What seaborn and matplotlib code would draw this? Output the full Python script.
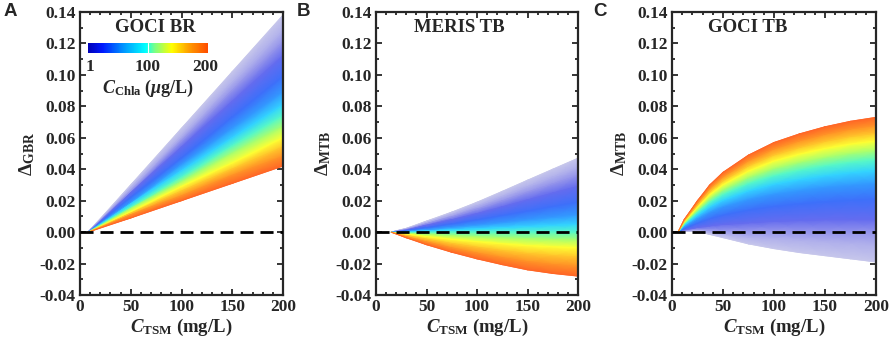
import numpy as np
import pandas as pd
import matplotlib
matplotlib.use("Agg")
import matplotlib.pyplot as plt
import seaborn as sns
from matplotlib.colors import LinearSegmentedColormap, Normalize
from matplotlib.ticker import MultipleLocator, FormatStrFormatter
import matplotlib.cm as cm

sns.set_style("ticks")
plt.rcParams["font.family"] = ["Liberation Serif", "DejaVu Serif"]
plt.rcParams["font.weight"] = "bold"
plt.rcParams["mathtext.fontset"] = "custom"
plt.rcParams["mathtext.rm"] = "Liberation Serif:bold"
plt.rcParams["mathtext.it"] = "Liberation Serif:italic:bold"
plt.rcParams["mathtext.bf"] = "Liberation Serif:bold"

# Chla levels (ug/L) shared by all panels
chla = [1, 5, 10, 20, 40, 60, 80, 100, 120, 140, 160, 180, 200]

# panel A: GOCI BR
tsm_a = [8, 50, 100, 150, 200]
delta_a = [
    [0, 0.030, 0.066, 0.102, 0.138],
    [0, 0.028, 0.061, 0.095, 0.128],
    [0, 0.026, 0.058, 0.090, 0.121],
    [0, 0.025, 0.054, 0.083, 0.112],
    [0, 0.022, 0.047, 0.073, 0.099],
    [0, 0.019, 0.043, 0.066, 0.089],
    [0, 0.018, 0.039, 0.060, 0.081],
    [0, 0.016, 0.035, 0.055, 0.074],
    [0, 0.015, 0.032, 0.050, 0.067],
    [0, 0.013, 0.029, 0.044, 0.060],
    [0, 0.012, 0.026, 0.040, 0.054],
    [0, 0.011, 0.023, 0.036, 0.048],
    [0, 0.009, 0.020, 0.031, 0.042],
]

# panel B: MERIS TB
tsm_b = [15, 30, 50, 75, 100, 125, 150, 175, 200]
delta_b = [
    [0, 0.0024, 0.0070, 0.0127, 0.0190, 0.0259, 0.0330, 0.0400, 0.047],
    [0, 0.0021, 0.0061, 0.0111, 0.0166, 0.0226, 0.0288, 0.0349, 0.041],
    [0, 0.0018, 0.0054, 0.0097, 0.0145, 0.0198, 0.0253, 0.0306, 0.036],
    [0, 0.0015, 0.0043, 0.0078, 0.0117, 0.0160, 0.0204, 0.0247, 0.029],
    [0, 0.0010, 0.0028, 0.0051, 0.0077, 0.0105, 0.0133, 0.0162, 0.019],
    [0, 0.0006, 0.0016, 0.0030, 0.0044, 0.0060, 0.0077, 0.0094, 0.011],
    [0, 0.0003, 0.0007, 0.0014, 0.0020, 0.0028, 0.0035, 0.0043, 0.005],
    [0, 0.0000, 0.0000, 0.0000, 0.0000, 0.0000, 0.0000, 0.0000, 0.000],
    [0, -0.0007, -0.0014, -0.0023, -0.0030, -0.0037, -0.0043, -0.0047, -0.005],
    [0, -0.0013, -0.0029, -0.0046, -0.0061, -0.0074, -0.0086, -0.0094, -0.010],
    [0, -0.0021, -0.0046, -0.0073, -0.0097, -0.0118, -0.0137, -0.0150, -0.016],
    [0, -0.0029, -0.0063, -0.0101, -0.0134, -0.0163, -0.0189, -0.0207, -0.022],
    [0, -0.0036, -0.0080, -0.0128, -0.0170, -0.0207, -0.0240, -0.0263, -0.028],
]

# panel C: GOCI TB
tsm_c = [6, 12, 25, 37, 50, 75, 100, 125, 150, 175, 200]
delta_c = [
    [0, 0.0005, 0.0005, -0.0015, -0.0035, -0.0075, -0.0105, -0.013, -0.015, -0.017, -0.019],
    [0, 0.0008, 0.0010, 0.0000, -0.0010, -0.0030, -0.0040, -0.005, -0.006, -0.007, -0.008],
    [0, 0.0010, 0.0018, 0.0015, 0.0010, 0.0010, 0.0010, 0.0005, 0.000, 0.000, 0.000],
    [0, 0.0012, 0.0030, 0.0040, 0.0050, 0.0060, 0.0070, 0.0075, 0.008, 0.008, 0.008],
    [0, 0.0023, 0.0058, 0.0086, 0.0109, 0.0141, 0.0164, 0.0180, 0.0193, 0.0203, 0.021],
    [0, 0.0034, 0.0085, 0.0127, 0.0162, 0.0208, 0.0242, 0.0265, 0.0285, 0.0299, 0.031],
    [0, 0.0043, 0.0107, 0.0160, 0.0203, 0.0262, 0.0305, 0.0334, 0.0358, 0.0377, 0.039],
    [0, 0.0051, 0.0126, 0.0189, 0.0240, 0.0309, 0.0359, 0.0394, 0.0422, 0.0444, 0.046],
    [0, 0.0057, 0.0142, 0.0214, 0.0271, 0.0349, 0.0406, 0.0445, 0.0477, 0.0502, 0.052],
    [0, 0.0064, 0.0159, 0.0238, 0.0302, 0.0389, 0.0453, 0.0496, 0.0532, 0.0560, 0.058],
    [0, 0.0069, 0.0173, 0.0259, 0.0328, 0.0423, 0.0492, 0.0539, 0.0578, 0.0609, 0.063],
    [0, 0.0075, 0.0186, 0.0280, 0.0354, 0.0456, 0.0531, 0.0582, 0.0624, 0.0657, 0.068],
    [0, 0.0080, 0.0200, 0.0300, 0.0380, 0.0490, 0.0570, 0.0625, 0.0670, 0.0705, 0.073],
]

titles = ["GOCI BR", "MERIS TB", "GOCI TB"]
ylabels = [r"$\Delta_{\mathrm{GBR}}$", r"$\Delta_{\mathrm{MTB}}$", r"$\Delta_{\mathrm{MTB}}$"]
letters = ["A", "B", "C"]

bar_cmap = LinearSegmentedColormap.from_list("chla", [
    (0.0, (0.0, 0.0, 0.72)), (0.12, (0.0, 0.1, 1.0)), (0.3, (0.0, 0.6, 1.0)),
    (0.48, (0.0, 1.0, 1.0)), (0.55, (0.45, 1.0, 0.55)), (0.7, (1.0, 1.0, 0.0)),
    (0.85, (1.0, 0.6, 0.0)), (1.0, (1.0, 0.3, 0.0))])
# fill looks washed out where the lines are sparse (low Chla)
fill_cmap = LinearSegmentedColormap.from_list("fill", [
    (0.0, (0.78, 0.78, 0.92)), (0.05, (0.55, 0.55, 0.92)), (0.12, (0.3, 0.35, 0.95)),
    (0.25, (0.2, 0.5, 1.0)), (0.45, (0.2, 0.95, 1.0)), (0.55, (0.5, 1.0, 0.55)),
    (0.7, (1.0, 1.0, 0.2)), (0.85, (1.0, 0.65, 0.15)), (1.0, (1.0, 0.4, 0.15))])
norm = Normalize(1, 200)

fig = plt.figure(figsize=(8.92, 3.41), dpi=100)
lefts = [80, 376, 672]
widths = [203, 202, 204]
title_x = [0.37, 0.41, 0.37]
letter_x = [10, 303, 600]

for i, (tsm, delta) in enumerate([(tsm_a, delta_a), (tsm_b, delta_b), (tsm_c, delta_c)]):
    ax = fig.add_axes([lefts[i] / 892, 46 / 341, widths[i] / 892, 283 / 341])
    X = np.tile(np.array(tsm, float), (len(chla), 1))
    Y = np.array(delta, float)
    Cv = np.repeat(np.array(chla, float)[:, None], len(tsm), axis=1)
    ax.pcolormesh(X, Y, Cv, shading="gouraud", cmap=fill_cmap, norm=norm, zorder=1)

    df = pd.DataFrame({"tsm": np.ravel(X), "delta": np.ravel(Y), "chla": np.ravel(Cv)})
    sns.lineplot(data=df, x="tsm", y="delta", hue="chla", units="chla", estimator=None,
                 palette=fill_cmap, hue_norm=norm, lw=0.5, legend=False, ax=ax, zorder=2)

    ax.axhline(0, color="black", lw=2, linestyle=(0, (4.7, 2.5)), zorder=3)
    ax.set_xlim(0, 200)
    ax.set_ylim(-0.04, 0.14)
    ax.xaxis.set_major_locator(MultipleLocator(50))
    ax.xaxis.set_minor_locator(MultipleLocator(10))
    ax.yaxis.set_major_locator(MultipleLocator(0.02))
    ax.yaxis.set_minor_locator(MultipleLocator(0.01))
    ax.yaxis.set_major_formatter(FormatStrFormatter("%.2f"))
    ax.tick_params(which="both", direction="in", top=True, right=True, width=1.3,
                   labelsize=12.5, pad=3)
    ax.tick_params(which="major", length=4.5)
    ax.tick_params(which="minor", length=2.5)
    for s in ax.spines.values():
        s.set_linewidth(1.6)
    ax.set_xlabel(r"$C_{\mathrm{TSM}}$ (mg/L)", fontsize=13.5, fontweight="bold", labelpad=1)
    ax.set_ylabel(ylabels[i], fontsize=14, labelpad=2)
    ax.text(title_x[i], 0.945, titles[i], transform=ax.transAxes, ha="center", va="center",
            fontsize=13.5, fontweight="bold")
    fig.text(letter_x[i] / 892, 1 - 12 / 341, letters[i], ha="center", va="center",
             fontsize=13.5, fontweight="bold", family=["Liberation Sans", "DejaVu Sans"])

    if i == 0:
        cax = ax.inset_axes([0.04, 0.855, 0.59, 0.037])
        cb = fig.colorbar(cm.ScalarMappable(norm=norm, cmap=bar_cmap), cax=cax,
                          orientation="horizontal")
        cb.outline.set_visible(False)
        cax.set_xticks([])
        cax.axvline(100, color="white", lw=0.8)
        for v, xf in [("1", 0.05), ("100", 0.335), ("200", 0.615)]:
            ax.text(xf, 0.805, v, transform=ax.transAxes, ha="center", va="center",
                    fontsize=12.5, fontweight="bold")
        ax.text(0.335, 0.73, r"$C_{\mathrm{Chla}}$ ($\mu$g/L)", transform=ax.transAxes,
                ha="center", va="center", fontsize=13, fontweight="bold")

fig.savefig("out.png", dpi=100)
